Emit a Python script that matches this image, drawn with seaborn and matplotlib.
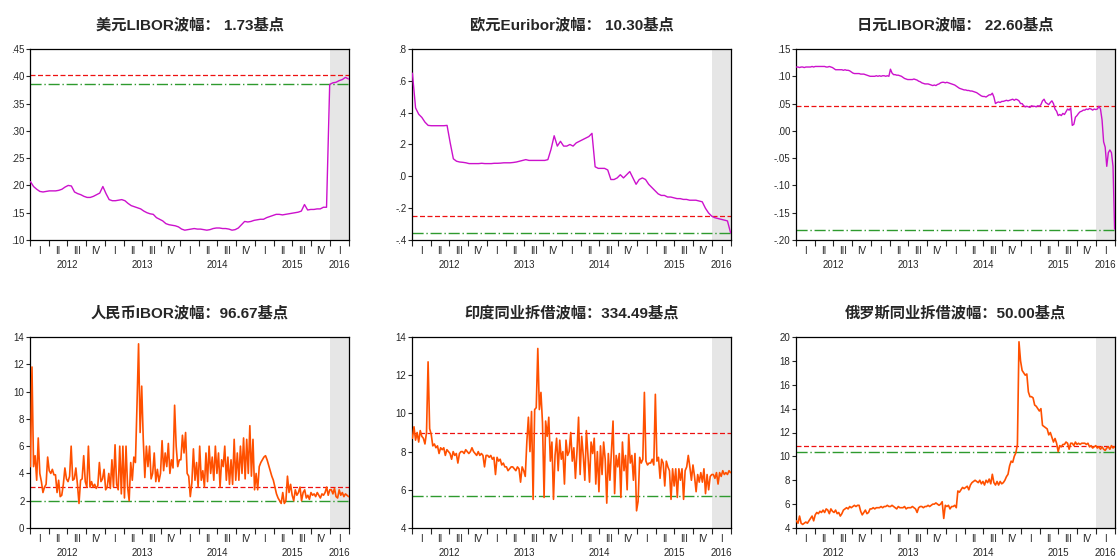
import pandas as pd
import numpy as np
import matplotlib
matplotlib.use("Agg")
import matplotlib.pyplot as plt
import matplotlib.transforms as mtransforms
import seaborn as sns

# ---- data (Jan 2012 - Mar 2016) ----
# 2 readings per month
usd = [.207, .198, .193, .189, .188, .189, .190, .190, .190, .191, .193, .197,
       .200, .199, .188, .185, .183, .180, .178, .178, .180, .183, .186, .198,
       .185, .174, .172, .172, .173, .174, .172, .167, .163, .161, .159, .157,
       .153, .150, .148, .147, .141, .138, .135, .130, .128, .127, .126, .124,
       .120, .118, .119, .120, .121, .120, .120, .119, .118, .119, .121, .122,
       .122, .121, .121, .120, .118, .119, .122, .128, .134, .133, .134, .136,
       .137, .138, .138, .141, .143, .145, .147, .147, .146, .147, .148, .149,
       .150, .151, .153, .165, .155, .156, .156, .157, .157, .160, .160, .385,
       .388, .389, .392, .394, .398, .395]
eur = [.648, .43, .39, .37, .34, .32, .318, .318, .318, .318, .318, .32,
       .21, .11, .095, .09, .088, .085, .08, .08, .08, .08, .082, .08,
       .08, .08, .082, .082, .083, .085, .085, .085, .087, .09, .095, .10,
       .105, .10, .10, .10, .10, .10, .10, .105, .17, .255, .19, .22,
       .19, .19, .20, .19, .21, .22, .23, .24, .25, .27, .06, .05,
       .05, .05, .04, -.02, -.02, -.01, .01, -.01, .01, .03, -.01, -.05,
       -.02, -.01, -.02, -.05, -.07, -.09, -.11, -.12, -.12, -.13, -.13, -.135,
       -.14, -.14, -.145, -.145, -.15, -.15, -.15, -.155, -.16, -.20, -.23, -.25,
       -.26, -.265, -.27, -.275, -.28, -.355]
# 4 readings per month
jpy = [.117, .117, .116, .117, .117, .116, .117, .117, .117, .117, .118, .117,
       .118, .118, .118, .118, .118, .118, .118, .117, .117, .118, .117, .116,
       .114, .112, .112, .112, .112, .112, .111, .112, .111, .111, .110, .108,
       .106, .105, .105, .105, .105, .104, .104, .104, .103, .102, .101, .100,
       .100, .100, .100, .101, .100, .101, .100, .101, .101, .100, .101, .100,
       .113, .106, .103, .103, .102, .102, .101, .100, .098, .096, .095, .094,
       .094, .094, .094, .095, .094, .093, .091, .090, .088, .087, .086, .086,
       .086, .085, .084, .083, .084, .083, .085, .086, .088, .089, .089, .088,
       .089, .088, .087, .086, .085, .084, .082, .080, .078, .077, .076, .075,
       .075, .074, .074, .073, .073, .072, .071, .070, .068, .066, .064, .063,
       .063, .062, .064, .066, .066, .069, .062, .050, .052, .053, .052, .054,
       .054, .055, .056, .055, .056, .057, .058, .056, .058, .057, .055, .050,
       .050, .046, .044, .045, .044, .043, .046, .045, .045, .044, .046, .045,
       .048, .055, .058, .052, .050, .048, .052, .055, .050, .040, .036, .028,
       .030, .028, .032, .030, .035, .040, .038, .042, .010, .012, .025, .028,
       .032, .035, .036, .038, .038, .040, .039, .041, .040, .038, .040, .039,
       .040, .045, .040, .020, -.020, -.030, -.065, -.040, -.035, -.040, -.065, -.180]
cny = [4.5, 11.8, 4.5, 5.3, 3.5, 6.6, 4.0, 3.4, 2.6, 3.0, 3.2, 5.2,
       4.2, 4.0, 4.3, 3.9, 3.9, 2.6, 3.5, 2.3, 2.4, 3.2, 4.4, 3.6,
       3.4, 3.8, 6.0, 3.5, 3.6, 4.4, 3.2, 1.8, 3.5, 3.6, 5.3, 3.4,
       3.0, 6.0, 3.0, 3.4, 3.0, 3.2, 2.9, 3.1, 4.8, 3.4, 3.6, 4.3,
       2.8, 3.0, 4.0, 2.9, 5.0, 3.0, 6.1, 3.2, 2.8, 6.0, 2.5, 6.0,
       2.2, 6.0, 3.0, 2.0, 4.8, 3.5, 5.2, 4.8, 9.0, 13.5, 7.0, 10.4,
       6.5, 3.7, 6.0, 4.5, 6.0, 3.6, 4.0, 5.5, 3.4, 4.3, 3.4, 4.0,
       6.4, 4.2, 5.5, 4.5, 6.2, 4.0, 5.0, 4.4, 9.0, 6.0, 4.5, 5.0,
       5.0, 6.8, 5.5, 7.0, 4.0, 3.8, 2.3, 3.3, 5.8, 3.5, 4.8, 3.0,
       6.0, 3.5, 4.2, 3.0, 5.5, 3.4, 6.0, 4.0, 5.2, 3.5, 6.0, 4.0,
       5.5, 3.0, 5.0, 4.5, 6.0, 3.5, 5.2, 3.2, 5.0, 3.2, 6.5, 3.5,
       5.5, 3.5, 6.0, 4.0, 6.6, 3.6, 6.5, 4.0, 7.5, 3.8, 6.5, 2.8,
       4.0, 2.8, 4.5, 4.8, 5.0, 5.2, 5.3, 5.0, 4.6, 4.2, 3.8, 3.5,
       3.0, 2.5, 2.2, 2.0, 1.8, 2.6, 1.8, 2.0, 3.8, 2.6, 3.2, 2.4,
       2.0, 2.8, 2.4, 2.6, 3.0, 2.0, 2.6, 2.8, 2.2, 2.4, 2.1, 2.6,
       2.4, 2.5, 2.3, 2.6, 2.4, 2.2, 2.5, 2.4, 2.6, 3.0, 2.4, 2.8,
       2.8, 2.5, 2.9, 2.3, 2.2, 2.8, 2.4, 2.6, 2.3, 2.5, 2.4, 2.3]
inr = [8.7, 9.3, 8.6, 9.0, 8.5, 9.1, 8.8, 8.7, 8.4, 9.0, 12.7, 9.2,
       8.9, 8.3, 8.4, 8.2, 8.3, 7.9, 8.2, 8.1, 8.2, 7.8, 8.1, 8.0,
       7.9, 7.6, 8.0, 7.8, 7.9, 7.4, 7.9, 8.0, 8.0, 7.9, 8.1, 8.0,
       7.9, 8.0, 8.2, 8.0, 7.9, 7.8, 8.0, 7.8, 7.9, 7.8, 7.2, 7.8,
       7.8, 7.7, 7.8, 7.6, 7.7, 6.8, 7.7, 7.5, 7.6, 7.3, 7.4, 7.2,
       7.2, 7.0, 7.1, 7.2, 7.2, 7.1, 7.0, 7.2, 7.1, 6.4, 7.2, 7.0,
       6.7, 8.5, 9.8, 8.0, 10.1, 5.5, 10.2, 10.3, 13.4, 10.2, 11.1, 9.5,
       5.6, 9.6, 8.8, 9.8, 7.5, 8.5, 5.5, 7.8, 8.7, 7.0, 8.6, 7.6,
       8.0, 6.3, 8.6, 7.8, 8.0, 9.0, 7.5, 8.2, 6.6, 8.0, 9.8, 6.8,
       8.8, 7.8, 6.5, 9.1, 7.8, 6.4, 8.5, 7.9, 8.7, 6.3, 8.0, 5.9,
       8.3, 6.8, 8.5, 7.6, 5.3, 7.9, 6.5, 8.0, 9.6, 5.8, 7.8, 7.2,
       7.9, 5.6, 8.5, 7.0, 7.8, 6.0, 8.9, 7.4, 7.8, 6.5, 7.9, 4.9,
       5.4, 7.7, 7.4, 7.6, 11.1, 7.5, 7.3, 7.4, 7.4, 7.6, 7.3, 11.0,
       7.5, 7.7, 6.6, 7.6, 7.4, 6.2, 7.5, 7.2, 7.0, 5.5, 7.1, 6.2,
       7.1, 5.6, 7.1, 6.5, 7.1, 5.5, 7.0, 7.2, 7.8, 7.2, 6.5, 7.3,
       6.7, 5.9, 6.8, 6.4, 6.9, 6.4, 7.1, 5.8, 6.8, 6.0, 6.7, 6.8,
       6.8, 6.6, 6.9, 6.3, 6.9, 6.7, 7.0, 6.8, 6.9, 6.8, 7.0, 6.9]
rub = [4.6, 4.4, 5.0, 4.4, 4.3, 4.4, 4.5, 4.4, 4.6, 4.8, 5.0, 4.6,
       5.1, 5.3, 5.2, 5.4, 5.3, 5.5, 5.3, 5.6, 5.5, 5.2, 5.6, 5.4,
       5.3, 5.5, 5.2, 5.3, 5.0, 5.2, 5.5, 5.6, 5.7, 5.6, 5.8, 5.7,
       5.8, 5.9, 5.8, 5.9, 5.9, 5.4, 5.1, 5.3, 5.5, 5.2, 5.3, 5.6,
       5.6, 5.7, 5.6, 5.7, 5.7, 5.7, 5.8, 5.7, 5.8, 5.8, 5.9, 5.8,
       5.8, 5.9, 5.8, 5.7, 5.6, 5.8, 5.7, 5.7, 5.7, 5.8, 5.6, 5.7,
       5.7, 5.7, 5.8, 5.7, 5.6, 5.3, 5.7, 5.8, 5.8, 5.7, 5.8, 5.8,
       5.9, 5.8, 5.9, 6.0, 6.0, 6.1, 6.0, 5.9, 6.0, 6.2, 4.8, 5.9,
       5.8, 5.9, 5.6, 5.8, 5.8, 5.9, 5.7, 7.1, 7.0, 7.2, 7.4, 7.3,
       7.4, 7.5, 7.2, 7.6, 7.8, 7.9, 8.0, 7.9, 7.8, 8.0, 7.7, 7.9,
       7.6, 8.0, 7.8, 8.1, 7.7, 8.5, 7.8, 7.6, 7.9, 7.6, 7.9, 7.7,
       7.8, 8.0, 8.3, 8.5, 9.2, 9.6, 9.5, 10.0, 10.3, 11.0, 19.6, 18.0,
       17.2, 17.0, 16.8, 16.9, 15.4, 15.0, 15.0, 14.9, 14.3, 14.2, 14.0, 13.8,
       14.0, 12.6, 12.5, 12.4, 12.3, 11.8, 12.0, 11.6, 11.2, 11.5, 11.1, 10.4,
       10.9, 10.8, 11.0, 11.0, 11.2, 11.1, 10.6, 11.1, 11.1, 10.9, 11.2, 11.0,
       11.1, 11.0, 11.1, 11.1, 11.1, 11.0, 11.1, 10.8, 10.9, 10.7, 10.8, 10.9,
       10.7, 10.8, 10.6, 10.8, 10.6, 10.5, 10.7, 10.8, 10.6, 10.9, 10.7, 10.8]

titles = ["美元LIBOR波幅： 1.73基点", "欧元Euribor波幅： 10.30基点", "日元LIBOR波幅： 22.60基点",
          "人民币IBOR波幅：96.67基点", "印度同业拆借波幅：334.49基点", "俄罗斯同业拆借波幅：50.00基点"]
upper = [.402, -.251, .045, 3.0, 9.0, 10.88]
lower = [.385, -.356, -.181, 2.0, 5.67, 10.39]
ylims = [(.10, .45), (-.4, .8), (-.20, .15), (0, 14), (4, 14), (4, 20)]
ysteps = [.05, .2, .05, 2, 2, 2]
ydec = [2, 1, 2, 0, 0, 0]
series = [usd, eur, jpy, cny, inr, rub]

start, end = pd.Timestamp("2012-01-01"), pd.Timestamp("2016-04-01")
shade_start = pd.Timestamp("2016-01-01")

sns.set_style("ticks")
plt.rcParams['font.family'] = ['Liberation Sans', 'Noto Sans CJK SC', 'DejaVu Sans']

fig = plt.figure(figsize=(11.17, 5.56), dpi=100)
lefts = [30, 412, 796]
tops = [49, 337]

def fmt(v, d):
    v = round(v, d) + 0.0
    if v == 0:
        v = 0.0
    s = f"{v:.{d}f}"
    if d > 0:
        s = s.replace("0.", ".", 1)
    return s

quarters = pd.date_range(start, end, freq="QS")
qmid = quarters[:-1] + pd.Timedelta(days=45)
qlab = ["I", "II", "III", "IV"] * 5

for i, vals in enumerate(series):
    r, c = divmod(i, 3)
    ax = fig.add_axes([lefts[c] / 1117, 1 - (tops[r] + 191) / 556, 319 / 1117, 191 / 556])
    dates = pd.date_range("2012-01-03", "2016-03-30", periods=len(vals))
    df = pd.DataFrame({"date": dates, "value": vals})
    ax.axvspan(shade_start, end, color="#e6e6e6", lw=0, zorder=0)
    col = "#cc11cc" if r == 0 else "#ff5000"
    sns.lineplot(data=df, x="date", y="value", ax=ax, color=col,
                 lw=1.0 if r == 0 else 1.2, zorder=3)
    ax.axhline(upper[i], color="#ee1111", lw=0.9, ls=(0, (4, 2)), zorder=2)
    ax.axhline(lower[i], color="#2e9a2e", lw=1.0, ls=(0, (8, 2, 1, 2)), zorder=2)

    lo, hi = ylims[i]
    ax.set_ylim(lo, hi)
    yt = np.arange(lo, hi + ysteps[i] / 2, ysteps[i])
    ax.set_yticks(yt)
    ax.set_yticklabels([fmt(v, ydec[i]) for v in yt], fontsize=7)
    ax.set_xlim(start, end)
    ax.set_xticks(quarters)
    ax.set_xticklabels([])
    ax.set_xticks(qmid, minor=True)
    ax.set_xticklabels(qlab[:len(qmid)], minor=True, fontsize=7)
    ax.tick_params(axis="x", which="major", length=4, width=0.8, direction="out")
    ax.tick_params(axis="x", which="minor", length=0, pad=4)
    ax.tick_params(axis="y", length=3, width=0.8, pad=1)
    trans = mtransforms.blended_transform_factory(ax.transData, ax.transAxes)
    for yr in range(2012, 2017):
        y0 = max(pd.Timestamp(f"{yr}-01-01"), start)
        y1 = min(pd.Timestamp(f"{yr + 1}-01-01"), end)
        ax.text(y0 + (y1 - y0) / 2, -0.13, str(yr), transform=trans,
                ha="center", va="center", fontsize=7)
    for s in ax.spines.values():
        s.set_visible(True)
        s.set_linewidth(0.9)
        s.set_color("black")
    ax.set_xlabel("")
    ax.set_ylabel("")
    ax.set_title(titles[i], fontsize=11, fontweight="bold", pad=14,
                 family=['Liberation Sans', 'Noto Sans CJK SC'])

fig.savefig("out.png", dpi=100)
